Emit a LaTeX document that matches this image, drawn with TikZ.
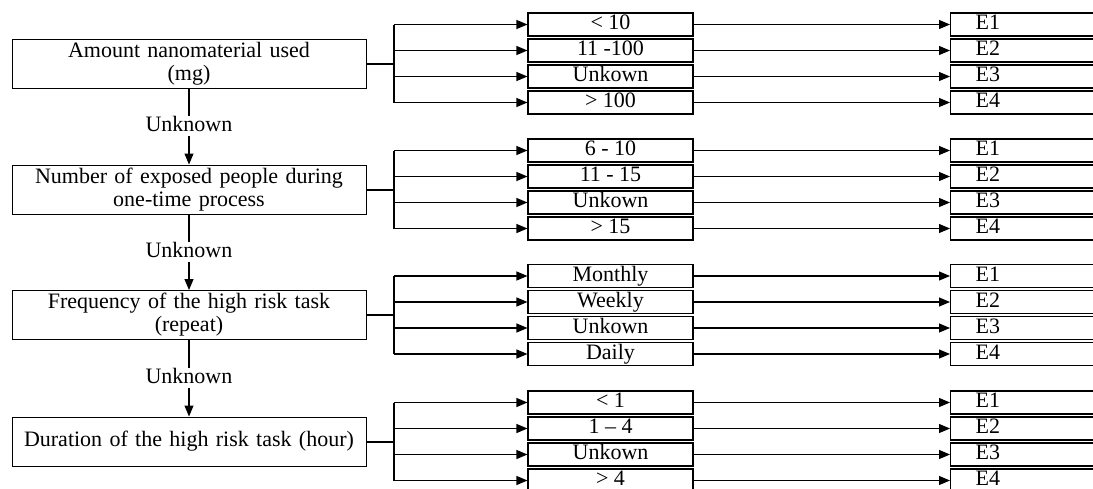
\documentclass[tikz,border=0pt]{standalone}
\usepackage{fontspec}
\setmainfont{Liberation Serif}
\usetikzlibrary{arrows.meta}

% one decision level: four option boxes fed from a bus, each leading to an E box
\newcommand\branch[6]{%
  \coordinate (b#1) at (394,#2);
  \node[optbox] (o#1a) at (610.5,#2-39) {#3};
  \node[optbox] (o#1b) at (610.5,#2-13) {#4};
  \node[optbox] (o#1c) at (610.5,#2+13) {#5};
  \node[optbox] (o#1d) at (610.5,#2+39) {#6};
  \foreach \k/\n/\dy in {a/1/-39,b/2/-13,c/3/13,d/4/39}{
    \node[endbox] (e#1\k) at (950,#2+\dy) {\hspace*{25pt}E\n};
    \draw[arr] (b#1 |- o#1\k) -- (o#1\k);
    \draw[arr] (o#1\k) -- (e#1\k);
  }
  \draw[conn] (b#1 |- o#1a) -- (b#1 |- o#1d);
  \draw[stub] (m#1) -- (b#1);
}

\begin{document}
\begin{tikzpicture}[x=1pt,y=-1pt,
  font=\fontsize{22}{23}\selectfont,
  mainbox/.style={draw, line width=1pt, minimum width=354, minimum height=49,
    text width=350, align=center, inner sep=0pt},
  optbox/.style={draw, line width=1.1pt, minimum width=165, minimum height=23,
    inner sep=0pt, text height=14.5pt, text depth=4pt},
  endbox/.style={draw, line width=1.1pt, anchor=west, minimum height=23,
    text width=170pt, align=left, inner sep=0pt, text height=14.5pt, text depth=4pt},
  lbl/.style={inner sep=1pt, text height=14.5pt, text depth=4pt},
  conn/.style={line width=1.1pt},
  stub/.style={line width=2pt},
  arr/.style={line width=1.1pt, -{Triangle[length=11pt,width=9pt]}}]
\useasboundingbox (0,0) rectangle (1093,488);
\clip (0,0) rectangle (1093,488);

\node[mainbox] (m1) at (189,63.5)  {Amount nanomaterial used\\(mg)};
\node[mainbox] (m2) at (189,189.5) {Number of exposed people during\\one-time process};
\node[mainbox] (m3) at (189,315)   {Frequency of the high risk task\\(repeat)};
\node[mainbox] (m4) at (189,441.5) {Duration of the high risk task (hour)};

\node[lbl] (u1) at (189,126) {Unknown};
\node[lbl] (u2) at (189,252) {Unknown};
\node[lbl] (u3) at (189,378) {Unknown};

\draw[conn] (m1) -- (u1);  \draw[arr] (u1) -- (m2);
\draw[conn] (m2) -- (u2);  \draw[arr] (u2) -- (m3);
\draw[conn] (m3) -- (u3);  \draw[arr] (u3) -- (m4);

\branch{1}{63.5}{< 10}{11 -100}{Unkown}{> 100}
\branch{2}{189.5}{6 - 10}{11 - 15}{Unkown}{> 15}
\branch{3}{315}{Monthly}{Weekly}{Unkown}{Daily}
\branch{4}{441.5}{< 1}{1 \textendash{} 4}{Unkown}{> 4}
\end{tikzpicture}
\end{document}
